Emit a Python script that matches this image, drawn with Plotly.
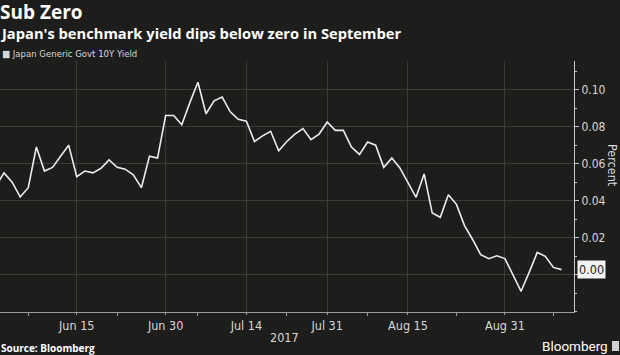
import plotly.graph_objects as go
import pandas as pd

# ---------------- data ----------------
holidays = ["2017-07-17", "2017-08-11"]
dates = [d.strftime("%Y-%m-%d") for d in pd.bdate_range("2017-06-01", "2017-09-11")
         if d.strftime("%Y-%m-%d") not in holidays]

yield_10y = [
    0.048, 0.055, 0.050, 0.042, 0.047, 0.069, 0.056, 0.058, 0.064, 0.070,   # Jun 1 - Jun 14
    0.053, 0.056, 0.055, 0.0575, 0.062, 0.058, 0.057, 0.054, 0.047, 0.064,  # Jun 15 - Jun 28
    0.063, 0.086, 0.086, 0.081, 0.093, 0.104, 0.087, 0.094, 0.096, 0.088,   # Jun 29 - Jul 12
    0.084, 0.083, 0.072, 0.075, 0.0775, 0.067, 0.072, 0.076, 0.079, 0.073,  # Jul 13 - Jul 27
    0.076, 0.0825, 0.078, 0.078, 0.069, 0.065, 0.0717, 0.070, 0.058, 0.063, # Jul 28 - Aug 10
    0.0577, 0.0496, 0.0418, 0.0544, 0.0333, 0.031, 0.0432, 0.038, 0.0265, 0.019,  # Aug 14 - Aug 25
    0.0108, 0.0086, 0.0102, 0.0087, 0.000, -0.009, 0.0012, 0.012, 0.0099, 0.0039,  # Aug 28 - Sep 8
    0.0027,  # Sep 11
]

tick_dates = ["2017-06-15", "2017-06-30", "2017-07-14", "2017-07-31", "2017-08-15", "2017-08-31"]
tick_labels = ["Jun 15", "Jun 30", "Jul 14", "Jul 31", "Aug 15", "Aug 31"]
minor_dates = ["2017-06-07", "2017-06-22", "2017-07-06", "2017-07-24", "2017-08-07", "2017-08-23", "2017-09-08"]
y_ticks = [0.00, 0.02, 0.04, 0.06, 0.08, 0.10]
y_tick_labels = ["0.00", "0.02", "0.04", "0.06", "0.08", "0.10"]

title = "Sub Zero"
subtitle = "Japan's benchmark yield dips below zero in September"
series_name = "Japan Generic Govt 10Y Yield"
source = "Source: Bloomberg"
year_label = "2017"
last_value_label = "0.00"

# ---------------- figure ----------------
BG = "#1d1d1b"
GRID = "#3b3b38"
TXT = "#d8d8d8"
FONT = "Liberation Sans Narrow, DejaVu Sans Condensed, Arial Narrow, Liberation Sans, sans-serif"
BFONT = "Open Sans, Liberation Sans, DejaVu Sans, sans-serif"

idx = list(range(len(dates)))
tickvals = [dates.index(d) for d in tick_dates]
minorvals = [dates.index(d) for d in minor_dates]
# the 0.00 tick label is hidden behind the last-value tag
shown_y_labels = [""] + y_tick_labels[1:]

W, H = 620, 355
L, R, T, B = 0, 46, 61, 43
PW, PH = W - L - R, H - T - B


def px(x):
    return (x - L) / PW


def py(y):
    return (H - B - y) / PH


fig = go.Figure()
fig.add_trace(go.Scatter(
    x=idx, y=yield_10y, mode="lines",
    line=dict(color="#ececec", width=1.6),
    name=series_name, showlegend=False, hoverinfo="skip",
))

fig.update_layout(
    width=W, height=H,
    margin=dict(l=L, r=R, t=T, b=B),
    paper_bgcolor=BG, plot_bgcolor=BG,
    font=dict(family=FONT, color=TXT, size=12),
    xaxis=dict(
        range=[0.5, 71.55], tickvals=tickvals, ticktext=tick_labels,
        showgrid=True, gridcolor=GRID, gridwidth=1,
        showline=True, linecolor="#9a9a9a", linewidth=1,
        ticks="outside", ticklen=2, tickcolor="#9a9a9a",
        minor=dict(tickvals=minorvals, ticks="outside", ticklen=3, tickcolor="#9a9a9a", showgrid=False),
        tickfont=dict(size=12.5, color=TXT, family=FONT),
        zeroline=False, fixedrange=True,
    ),
    yaxis=dict(
        side="right", range=[-0.0202, 0.1155],
        tickvals=y_ticks, ticktext=shown_y_labels,
        showgrid=True, gridcolor=GRID, gridwidth=1,
        showline=True, linecolor="#c8c8c8", linewidth=1,
        ticks="outside", ticklen=4, tickcolor="#c8c8c8",
        minor=dict(dtick=0.01, tick0=0.01, ticks="outside", ticklen=2, tickcolor="#c8c8c8", showgrid=False),
        tickfont=dict(size=12, color=TXT, family=FONT),
        zeroline=False, fixedrange=True,
    ),
)

ann = []
ann.append(dict(text=f"<b>{title}</b>", x=px(-2), y=py(12.5), xref="paper", yref="paper",
                xanchor="left", yanchor="middle", showarrow=False,
                font=dict(family=BFONT, size=19, color="#ffffff")))
ann.append(dict(text=f"<b>{subtitle}</b>", x=px(-2), y=py(33), xref="paper", yref="paper",
                xanchor="left", yanchor="middle", showarrow=False,
                font=dict(family=BFONT, size=14.7, color="#ffffff")))
ann.append(dict(text="\u25A0 " + series_name, x=px(0), y=py(53), xref="paper", yref="paper",
                xanchor="left", yanchor="middle", showarrow=False,
                font=dict(family=FONT, size=9.5, color="#d8d8d8")))
ann.append(dict(text="Percent", x=px(613), y=py(165), xref="paper", yref="paper",
                xanchor="center", yanchor="middle", showarrow=False, textangle=90,
                font=dict(family=FONT, size=12.5, color=TXT)))
ann.append(dict(text=last_value_label, x=px(577), y=yield_10y[-1], xref="paper", yref="y",
                xanchor="left", yanchor="middle", showarrow=False,
                bgcolor="#f2f2f2", borderpad=1,
                font=dict(family=FONT, size=12.5, color="#1d1d1b")))
ann.append(dict(text=year_label, x=px(284), y=py(337), xref="paper", yref="paper",
                xanchor="center", yanchor="middle", showarrow=False,
                font=dict(family=FONT, size=12.5, color=TXT)))
ann.append(dict(text=f"<b>{source}</b>", x=px(-1), y=py(348), xref="paper", yref="paper",
                xanchor="left", yanchor="middle", showarrow=False,
                font=dict(family=BFONT, size=10, color="#ffffff")))
ann.append(dict(text="Bloomberg", x=px(610), y=py(346), xref="paper", yref="paper",
                xanchor="right", yanchor="middle", showarrow=False,
                font=dict(family="Roboto, Liberation Sans, sans-serif", size=13.5, color="#ffffff")))
fig.update_layout(annotations=ann)

# small logo mark next to "Bloomberg"
fig.add_shape(type="rect", xref="paper", yref="paper",
              x0=px(612), x1=px(619), y0=py(351), y1=py(341),
              fillcolor="#d0d0d0", line=dict(width=0))

fig.write_html("out.html", config={"displayModeBar": False},
               post_script="document.body.style.margin='0';document.body.style.background='%s';" % BG)
